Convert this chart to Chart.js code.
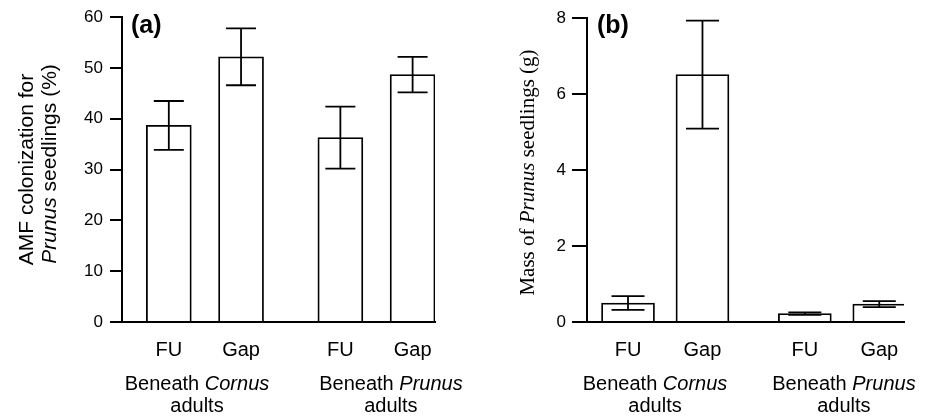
<!DOCTYPE html>
<html><head><meta charset="utf-8">
<script src="https://cdn.jsdelivr.net/npm/chart.js@4"></script>
<style>
html,body{margin:0;padding:0;background:#fff;}
#wrap{position:relative;width:933px;height:417px;background:#fff;}
.panel{position:absolute;top:0;height:417px;}
#pa{left:0;width:466px;}
#pb{left:466px;width:467px;}
canvas{display:block;}
</style></head><body>
<div id="wrap">
  <div class="panel" id="pa"><canvas id="ca" width="466" height="417"></canvas></div>
  <div class="panel" id="pb"><canvas id="cb" width="467" height="417"></canvas></div>
</div>
<script>
// ---------- data ----------
const categories = ['FU', 'Gap', 'FU', 'Gap'];
const groupOfBar = [0, 0, 1, 1];
const groupGenus = ['Cornus', 'Prunus'];
const colonizationMean = [38.7, 52.2, 36.3, 48.7];
const colonizationSE = [4.8, 5.6, 6.1, 3.5];
const massMean = [0.50, 6.51, 0.22, 0.47];
const massSE = [0.18, 1.42, 0.035, 0.08];
const yTicksA = [0, 10, 20, 30, 40, 50, 60];
const yTicksB = [0, 2, 4, 6, 8];

// ---------- layout helpers ----------
const SANS = "'Liberation Sans', Arial, Helvetica, sans-serif";
const SERIF = "'Liberation Serif', 'Times New Roman', serif";
const GROUP_GAP = 0.375;
const slot = i => i + groupOfBar[i] * GROUP_GAP;

function drawParts(ctx, parts, cx, y, size, family, weight) {
  let w = 0;
  parts.forEach(p => {
    ctx.font = (p.i ? 'italic ' : '') + (weight || '') + ' ' + size + 'px ' + family;
    p.w = ctx.measureText(p.t).width; w += p.w;
  });
  let x = cx - w / 2;
  ctx.textAlign = 'left';
  parts.forEach(p => {
    ctx.font = (p.i ? 'italic ' : '') + (weight || '') + ' ' + size + 'px ' + family;
    ctx.fillText(p.t, x, y); x += p.w;
  });
}

function makePanel(canvasId, cfg) {
  const errorBars = {
    id: 'errorBars' + canvasId,
    afterDatasetsDraw(chart) {
      const ctx = chart.ctx, meta = chart.getDatasetMeta(0), ys = chart.scales.y, ca = chart.chartArea;
      ctx.save();
      ctx.strokeStyle = '#000'; ctx.lineWidth = 1.8; ctx.lineCap = 'butt';
      cfg.means.forEach((m, i) => {
        const x = meta.data[i].x;
        const yh = ys.getPixelForValue(m + cfg.se[i]);
        const yl = ys.getPixelForValue(m - cfg.se[i]);
        const c = cfg.cap / 2;
        ctx.beginPath();
        ctx.moveTo(x, yh); ctx.lineTo(x, yl);
        ctx.moveTo(x - c, yh); ctx.lineTo(x + c, yh);
        ctx.moveTo(x - c, yl); ctx.lineTo(x + c, yl);
        ctx.stroke();
      });
      // re-stroke the x axis line over the bar bases
      const y0 = Math.round(ys.getPixelForValue(0));
      ctx.lineWidth = 2;
      ctx.beginPath();
      ctx.moveTo(ca.left - cfg.tickLen, y0); ctx.lineTo(ca.right, y0);
      ctx.stroke();
      ctx.restore();
    }
  };
  const texts = {
    id: 'texts' + canvasId,
    afterDraw(chart) {
      const ctx = chart.ctx, xs = chart.scales.x, ca = chart.chartArea;
      ctx.save();
      ctx.fillStyle = '#000';
      ctx.textBaseline = 'alphabetic';
      categories.forEach((c, i) => {
        drawParts(ctx, [{t: c}], xs.getPixelForValue(slot(i)), ca.bottom + 34, 20, SANS);
      });
      groupGenus.forEach((g, k) => {
        const gx = xs.getPixelForValue(cfg.groupX[k]);
        drawParts(ctx, [{t: 'Beneath '}, {t: g, i: true}], gx, ca.bottom + 68, 20, SANS);
        drawParts(ctx, [{t: 'adults'}], gx, ca.bottom + 90, 20, SANS);
      });
      cfg.yTitle.forEach(line => {
        ctx.save();
        ctx.translate(line.x, line.y);
        ctx.rotate(-Math.PI / 2);
        drawParts(ctx, line.parts, 0, 0, cfg.titleSize, cfg.titleFamily);
        ctx.restore();
      });
      ctx.textBaseline = 'middle';
      ctx.textAlign = 'left';
      ctx.font = 'bold 25px ' + SANS;
      ctx.fillText(cfg.letter, cfg.letterX, 26);
      ctx.restore();
    }
  };
  const ticks = cfg.yTicks;
  return new Chart(document.getElementById(canvasId), {
    type: 'bar',
    data: {
      datasets: [{
        data: cfg.means.map((v, i) => ({x: slot(i), y: v})),
        backgroundColor: '#fff',
        borderColor: '#000',
        borderWidth: 1.8,
        borderSkipped: 'start',
        barThickness: cfg.barWidth
      }]
    },
    options: {
      responsive: false,
      animation: false,
      devicePixelRatio: 1,
      layout: {padding: {left: 0, right: cfg.padR, top: cfg.padT, bottom: 95}},
      plugins: {legend: {display: false}, tooltip: {enabled: false}, title: {display: false}},
      scales: {
        x: {
          type: 'linear', min: cfg.xmin, max: cfg.xmax, offset: false,
          grid: {display: false, drawTicks: false},
          border: {display: true, color: '#000', width: 2},
          ticks: {display: false},
          afterFit: s => { s.height = 0; }
        },
        y: {
          min: ticks[0], max: ticks[ticks.length - 1],
          ticks: {stepSize: ticks[1] - ticks[0], color: '#000', padding: cfg.tickPad,
                  font: {family: SANS, size: 17}},
          grid: {display: true, drawOnChartArea: false, drawTicks: true,
                 tickLength: cfg.tickLen, color: '#000', lineWidth: 2},
          border: {display: true, color: '#000', width: 2},
          afterFit: s => { s.width = cfg.yWidth; }
        }
      }
    },
    plugins: [errorBars, texts]
  });
}

makePanel('ca', {
  means: colonizationMean, se: colonizationSE, yTicks: yTicksA,
  yWidth: 122, tickLen: 12, tickPad: 7, padR: 31, padT: 17,
  xmin: -0.648, xmax: 3.685, barWidth: 45, cap: 30,
  groupX: [0.39, 3.075],
  titleSize: 21, titleFamily: SANS,
  yTitle: [
    {x: 33, y: 169.5, parts: [{t: 'AMF colonization for'}]},
    {x: 55.5, y: 164, parts: [{t: 'Prunus', i: true}, {t: ' seedlings (%)'}]}
  ],
  letter: '(a)', letterX: 131
});

makePanel('cb', {
  means: massMean, se: massSE, yTicks: yTicksB,
  yWidth: 121, tickLen: 15, tickPad: 6, padR: 29, padT: 18,
  xmin: -0.551, xmax: 3.707, barWidth: 53, cap: 33,
  groupX: [0.363, 2.90],
  titleSize: 21, titleFamily: SERIF,
  yTitle: [
    {x: 67.5, y: 172.5, parts: [{t: 'Mass of '}, {t: 'Prunus', i: true}, {t: ' seedlings (g)'}]}
  ],
  letter: '(b)', letterX: 131
});
</script>
</body></html>
